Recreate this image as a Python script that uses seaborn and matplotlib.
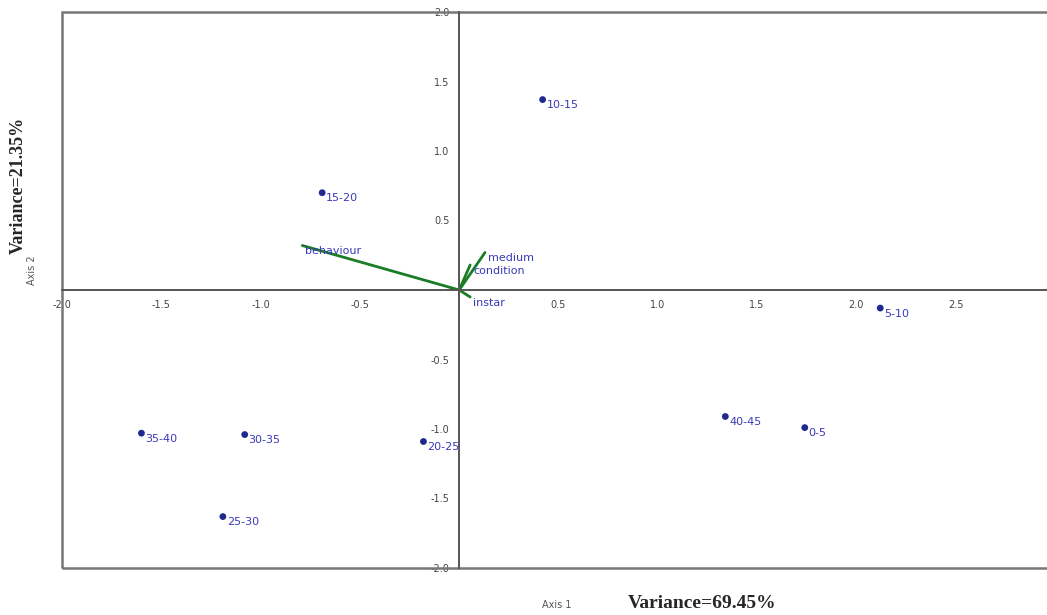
import pandas as pd
import seaborn as sns
import matplotlib.pyplot as plt
from matplotlib.patches import Rectangle
from matplotlib.ticker import FuncFormatter

# site scores (axis 1, axis 2)
sites = ["10-15", "15-20", "5-10", "40-45", "0-5", "20-25", "30-35", "35-40", "25-30"]
axis1 = [0.42, -0.69, 2.12, 1.34, 1.74, -0.18, -1.08, -1.60, -1.19]
axis2 = [1.37, 0.70, -0.13, -0.91, -0.99, -1.09, -1.04, -1.03, -1.63]

# variable loadings
variables = ["behaviour", "medium", "condition", "instar"]
load1 = [-0.79, 0.13, 0.055, 0.055]
load2 = [0.32, 0.27, 0.18, -0.05]

var1 = "Variance=69.45%"
var2 = "Variance=21.35%"

df = pd.DataFrame({"site": sites, "ax1": axis1, "ax2": axis2})

sns.set_style("white")
fig = plt.figure(figsize=(10.47, 6.15), dpi=100)
W, H = 1047, 615
ax = fig.add_axes([62 / W, 1 - 568 / H, 993 / W, 556 / H])

# loading vectors
for name, a, b in zip(variables, load1, load2):
    ax.plot([0, a], [0, b], color="#1a7d26", lw=2, zorder=2)
    ax.text(a + 0.015, b - 0.04, name, color="#3a3ab8", fontsize=8,
            ha="left", va="center", zorder=4)

sns.scatterplot(data=df, x="ax1", y="ax2", color="#1f2a8f", s=24,
                edgecolor="none", ax=ax, zorder=3)
for _, r in df.iterrows():
    ax.text(r["ax1"] + 0.02, r["ax2"] - 0.04, r["site"], color="#3a3ab8",
            fontsize=8, ha="left", va="center", zorder=4)

ax.set_xlim(-2.0, 3.0)
ax.set_ylim(-2.0, 2.0)

# axes through the origin
for side in ["top", "right"]:
    ax.spines[side].set_visible(False)
ax.spines["left"].set_position("zero")
ax.spines["bottom"].set_position("zero")
for side in ["left", "bottom"]:
    ax.spines[side].set_color("#555555")
    ax.spines[side].set_linewidth(1.4)

# outer frame
ax.add_patch(Rectangle((0, 0), 1, 1, transform=ax.transAxes, fill=False,
                       edgecolor="#777777", lw=1.8, clip_on=False, zorder=1))

xt = [-2.0, -1.5, -1.0, -0.5, 0.5, 1.0, 1.5, 2.0, 2.5]
yt = [-2.0, -1.5, -1.0, -0.5, 0.5, 1.0, 1.5, 2.0]
ax.set_xticks(xt)
ax.set_yticks(yt)
fmt = FuncFormatter(lambda v, p: f"{v:.1f}")
ax.xaxis.set_major_formatter(fmt)
ax.yaxis.set_major_formatter(fmt)
ax.tick_params(axis="both", direction="out", length=4, width=1,
               color="#555555", labelsize=7, labelcolor="#444444", pad=3)
ax.set_xlabel("")
ax.set_ylabel("")

fig.text(557 / W, 1 - 605 / H, "Axis 1", fontsize=7, color="#555555",
         ha="center", va="center")
fig.text(702 / W, 1 - 603 / H, var1, fontsize=14, fontweight="bold",
         family="Liberation Serif", ha="center", va="center")
fig.text(32 / W, 1 - 270 / H, "Axis 2", fontsize=7, color="#555555",
         rotation=90, ha="center", va="center")
fig.text(18 / W, 1 - 185 / H, var2, fontsize=13, fontweight="bold",
         family="Liberation Serif", rotation=90, ha="center", va="center")

fig.savefig("out.png", dpi=100)
